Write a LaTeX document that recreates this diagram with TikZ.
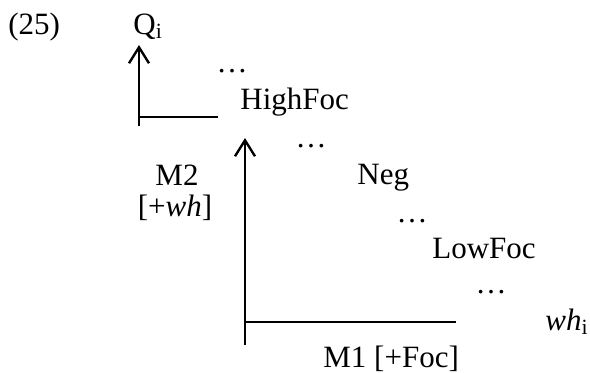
\documentclass[tikz,border=0pt]{standalone}
\usepackage{fontspec}
\setmainfont{Liberation Serif}
\usetikzlibrary{arrows.meta}

\begin{document}
\begin{tikzpicture}[x=0.5pt, y=-0.5pt, font=\fontsize{15.5}{18}\selectfont]
    \tikzset{
        word/.style={inner sep=0pt, anchor=base west},
        gap/.style={inner sep=0pt},
        move/.style={line width=1.2pt},
        up move/.style={move, -{Straight Barb[length=8pt, width=10pt, line width=1.2pt]}}
    }
    \useasboundingbox (0,0) rectangle (590,372);

    % Example number and target
    \node[word] (num) at (8, 34) {(25)};
    \node[word] (q) at (133, 34) {Q\textsubscript{i}};

    % Spine of heads (going down to the right)
    \node[gap] (d1) at (232, 71) {\dots};
    \node[word] (high) at (240, 109) {HighFoc};
    \node[gap] (d2) at (311, 146) {\dots};
    \node[word] (neg) at (357, 184) {Neg};
    \node[gap] (d3) at (412, 221) {\dots};
    \node[word] (low) at (432, 258) {LowFoc};
    \node[gap] (d4) at (491, 292) {\dots};
    \node[word] (wh) at (545, 330) {\textit{wh}\textsubscript{i}};

    % Movement labels
    \node[gap, anchor=base] (m2) at (177, 185) {M2};
    \node[gap, anchor=base] (m2f) at (175, 216) {[+\textit{wh}]};
    \node[word] (m1) at (323, 367) {M1 [+Foc]};

    % Lower movement (M1)
    \coordinate (m1-foot) at (245, 345);
    \coordinate (m1-top) at (245, 138);
    \coordinate (m1-corner) at (245, 322);
    \coordinate (m1-end) at (456, 322);
    \draw[up move] (m1-foot) -- (m1-top);
    \draw[move] (m1-corner) -- (m1-end);

    % Upper movement (M2)
    \coordinate (m2-foot) at (139, 126);
    \coordinate (m2-top) at (139, 45);
    \coordinate (m2-corner) at (139, 117);
    \coordinate (m2-end) at (218, 117);
    \draw[up move] (m2-foot) -- (m2-top);
    \draw[move] (m2-corner) -- (m2-end);

\end{tikzpicture}
\end{document}
